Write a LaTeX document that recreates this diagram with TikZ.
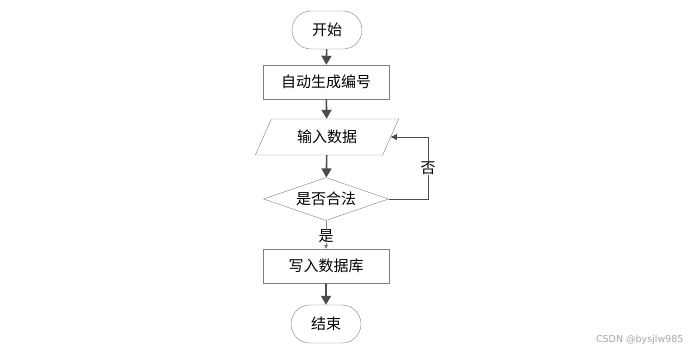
\documentclass[tikz,border=0pt]{standalone}
\usepackage{fontspec}
\newfontfamily\cjk{Noto Sans CJK SC}
\setsansfont{DejaVu Sans}
\usetikzlibrary{shapes.geometric,arrows.meta}

\tikzset{
  every node/.style={font=\cjk\fontsize{15}{17}\selectfont, text=black},
  terminal/.style={draw=gray, rectangle, rounded corners=19pt,
                   minimum width=70pt, minimum height=38pt},
  procbox/.style={draw=gray, rectangle, minimum width=126pt, minimum height=34pt},
  iobox/.style={draw=gray, trapezium, trapezium left angle=65,
                trapezium right angle=115, trapezium stretches=true,
                minimum width=144pt, minimum height=36pt},
  decision/.style={draw=gray, diamond, aspect=2.9, inner sep=0pt,
                   minimum width=125pt, minimum height=43pt},
  flow/.style={draw=black!70, line width=1.6pt,
               -{Triangle[length=9pt, width=10pt]}},
  thinflow/.style={draw=black!70, line width=0.8pt,
                   -{Triangle[length=6pt, width=6pt]}}
}

\begin{document}
\begin{tikzpicture}[x=1pt, y=-1pt]
  \useasboundingbox (0, 0) rectangle (694, 354);

  \node[terminal] (start)  at (327, 30)  {开始};
  \node[procbox]  (number) at (326, 82)  {自动生成编号};
  \node[iobox]    (input)  at (327, 137) {输入数据};
  \node[decision] (check)  at (326, 199) {是否合法};
  \node[procbox]  (write)  at (326, 266) {写入数据库};
  \node[terminal] (stop)   at (326, 324) {结束};

  \draw[flow] (start) -- (number);
  \draw[flow] (number) -- (input);
  \draw[flow] (input) -- (check);
  \draw[draw=gray, line width=0.6pt, -{Triangle[length=4pt, width=4pt]}]
        (check) -- node[fill=white, inner sep=0.5pt, pos=0.55] {是} (write);
  \draw[flow] (write) -- (stop);

  \coordinate (loop) at (428, 199);
  \draw[thinflow] (check.east) -- (loop) -- node[fill=white, inner sep=1pt] {否}
        (loop |- input.east) -- (input.east);

  \node[font=\sffamily\fontsize{9.5}{11}\selectfont, text=black!35,
        anchor=east] (mark) at (687, 340) {CSDN @bysjlw985};
\end{tikzpicture}
\end{document}
